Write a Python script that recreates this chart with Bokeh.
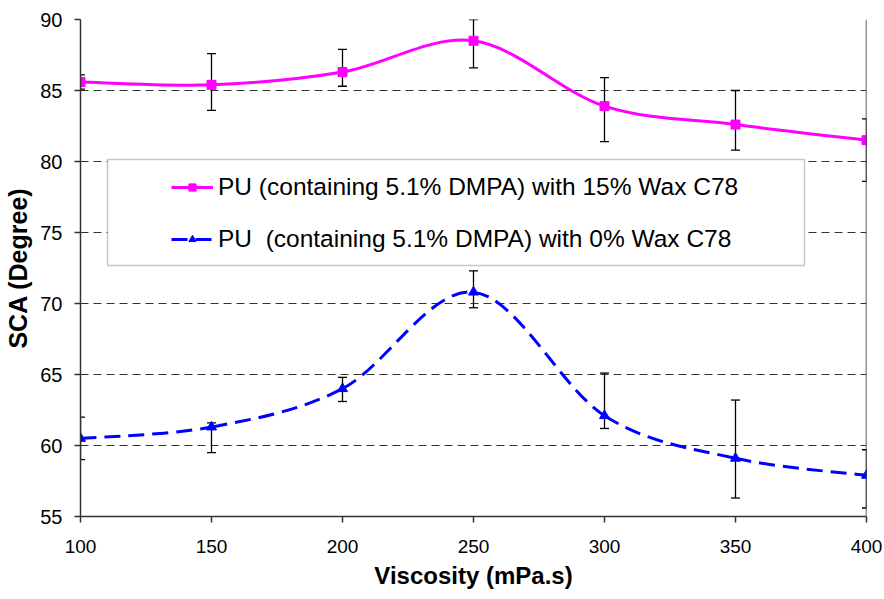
from bokeh.plotting import figure
from bokeh.models import (Range1d, FixedTicker, Whisker, ColumnDataSource, Legend,
                          LegendItem, BoxAnnotation, Span, TeeHead)
from bokeh.embed import file_html
from bokeh.resources import INLINE

viscosity = [100, 150, 200, 250, 300, 350, 400]
sca_wax15 = [85.6, 85.4, 86.3, 88.5, 83.9, 82.6, 81.5]
wax15_upper = [86.1, 87.6, 87.9, 90.0, 85.9, 85.0, 83.0]
wax15_lower = [85.1, 83.6, 85.3, 86.6, 81.4, 80.8, 78.6]
sca_wax0 = [60.5, 61.3, 64.0, 70.8, 62.1, 59.1, 57.9]
wax0_upper = [62.0, 61.6, 64.8, 72.3, 65.1, 63.2, 59.7]
wax0_lower = [59.0, 59.5, 63.1, 69.7, 61.2, 56.3, 55.6]
x_ticks = [100, 150, 200, 250, 300, 350, 400]
y_ticks = [55, 60, 65, 70, 75, 80, 85, 90]
label_15 = "PU (containing 5.1% DMPA) with 15% Wax C78"
label_0 = "PU  (containing 5.1% DMPA) with 0% Wax C78"

FONT = "Liberation Sans"

p = figure(width=884, height=599, output_backend="svg", toolbar_location=None,
           x_range=Range1d(100, 400), y_range=Range1d(55, 90),
           min_border_left=80, min_border_right=18, min_border_top=19, min_border_bottom=83)
p.outline_line_color = None
p.background_fill_color = "white"

# axes
for ax in (p.xaxis[0], p.yaxis[0]):
    ax.axis_line_color = "#333333"
    ax.axis_line_width = 1.5
    ax.major_tick_line_color = "#333333"
    ax.major_tick_line_width = 1.5
    ax.major_tick_out = 6
    ax.major_tick_in = 0
    ax.minor_tick_line_color = None
    ax.major_label_text_font = FONT
    ax.major_label_text_color = "black"
    ax.axis_label_text_font = FONT
    ax.axis_label_text_font_style = "bold"
    ax.axis_label_text_color = "black"

p.xaxis.ticker = FixedTicker(ticks=x_ticks)
p.yaxis.ticker = FixedTicker(ticks=y_ticks)
p.xaxis.major_label_text_font_size = "19px"
p.yaxis.major_label_text_font_size = "20px"
p.xaxis.axis_label = "Viscosity (mPa.s)"
p.yaxis.axis_label = "SCA (Degree)"
p.xaxis.axis_label_text_font_size = "24px"
p.yaxis.axis_label_text_font_size = "25px"
p.xaxis.major_label_standoff = 17
p.yaxis.major_label_standoff = 12
p.xaxis.axis_label_standoff = 6
p.yaxis.axis_label_standoff = 5

p.xgrid.grid_line_color = None
p.ygrid.grid_line_color = "#333333"
p.ygrid.grid_line_dash = "8 5"
p.ygrid.grid_line_width = 1

p.add_layout(Span(location=400, dimension="height", line_color="#333333", line_width=1.5))


def smooth(xs, ys):
    n = len(xs)
    seg = dict(x0=[], y0=[], x1=[], y1=[], cx0=[], cy0=[], cx1=[], cy1=[])
    for i in range(n - 1):
        xp, yp = (xs[i - 1], ys[i - 1]) if i > 0 else (xs[i], ys[i])
        xn, yn = (xs[i + 2], ys[i + 2]) if i + 2 < n else (xs[i + 1], ys[i + 1])
        seg["x0"].append(xs[i]); seg["y0"].append(ys[i])
        seg["x1"].append(xs[i + 1]); seg["y1"].append(ys[i + 1])
        seg["cx0"].append(xs[i] + (xs[i + 1] - xp) / 6)
        seg["cy0"].append(ys[i] + (ys[i + 1] - yp) / 6)
        seg["cx1"].append(xs[i + 1] - (xn - xs[i]) / 6)
        seg["cy1"].append(ys[i + 1] - (yn - ys[i]) / 6)
    return ColumnDataSource(seg)


# legend box
p.add_layout(BoxAnnotation(left=107 - 80, right=804 - 80, top=497 - (159 - 19), bottom=497 - (265 - 19),
                           left_units="screen", right_units="screen", top_units="screen", bottom_units="screen",
                           fill_color="white", fill_alpha=1.0, line_color="#444444", line_width=1.5))

# error bars
for ys, up, lo in ((sca_wax15, wax15_upper, wax15_lower), (sca_wax0, wax0_upper, wax0_lower)):
    src = ColumnDataSource(dict(x=viscosity, upper=up, lower=lo))
    p.add_layout(Whisker(source=src, base="x", upper="upper", lower="lower",
                         line_color="black", line_width=1.3,
                         upper_head=TeeHead(size=9, line_color="black", line_width=1.3),
                         lower_head=TeeHead(size=9, line_color="black", line_width=1.3)))

MAG = "#FF00FF"
BLUE = "#0000FF"

b15 = p.bezier(x0="x0", y0="y0", x1="x1", y1="y1", cx0="cx0", cy0="cy0", cx1="cx1", cy1="cy1",
               source=smooth(viscosity, sca_wax15), line_color=MAG, line_width=3)
b0 = p.bezier(x0="x0", y0="y0", x1="x1", y1="y1", cx0="cx0", cy0="cy0", cx1="cx1", cy1="cy1",
              source=smooth(viscosity, sca_wax0), line_color=BLUE, line_width=3, line_dash="16 8")

s15 = p.scatter(viscosity, sca_wax15, marker="square", size=9, fill_color=MAG, line_color=MAG)
s0 = p.scatter(viscosity, sca_wax0, marker="triangle", size=10, fill_color=BLUE, line_color=BLUE)

legend = Legend(items=[LegendItem(label=label_15, renderers=[b15, s15]),
                       LegendItem(label=label_0, renderers=[b0, s0])],
                location=(91, 259), padding=0, spacing=16, glyph_width=42, glyph_height=18,
                label_height=36, label_standoff=5, label_text_font=FONT,
                label_text_font_size="24.5px", label_text_color="black",
                background_fill_alpha=0, border_line_color=None)
p.add_layout(legend)

open("out.html", "w").write(file_html(p, INLINE))
